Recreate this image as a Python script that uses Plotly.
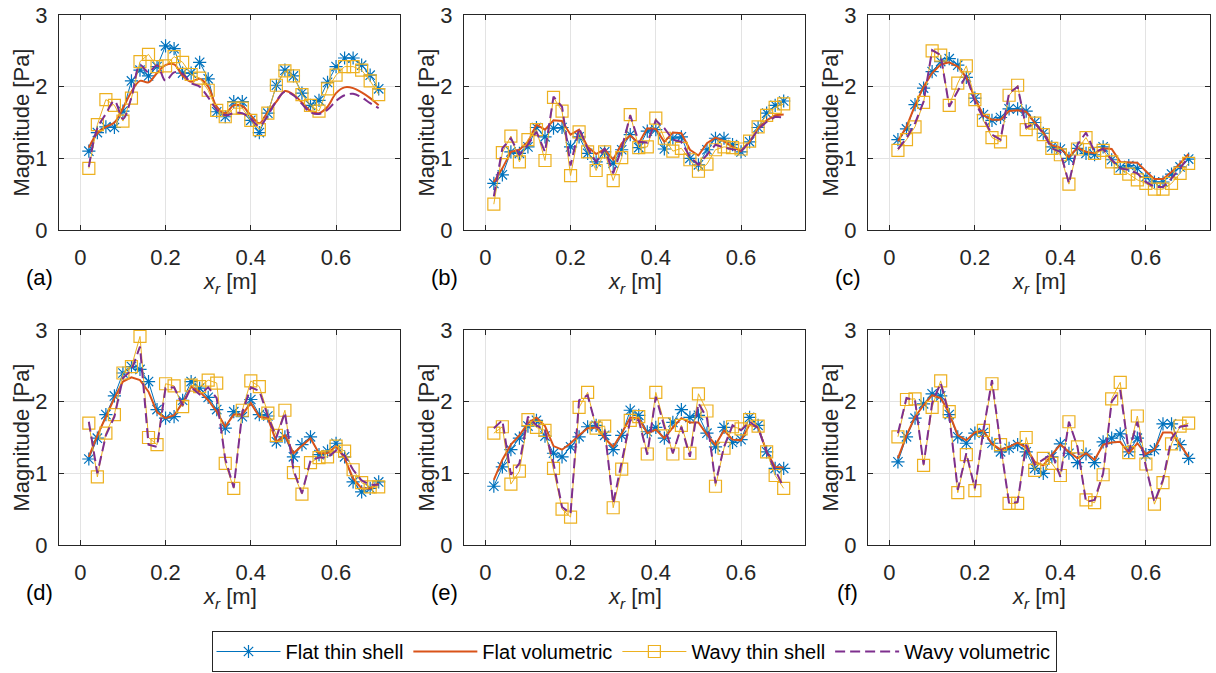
import plotly.graph_objects as go

W, H = 1216, 673

x_r = [0.02, 0.04, 0.06, 0.08, 0.10, 0.12, 0.14, 0.16, 0.18, 0.20, 0.22, 0.24,
       0.26, 0.28, 0.30, 0.32, 0.34, 0.36, 0.38, 0.40, 0.42, 0.44, 0.46, 0.48,
       0.50, 0.52, 0.54, 0.56, 0.58, 0.60, 0.62, 0.64, 0.66, 0.68, 0.70]

series_names = ["Flat thin shell", "Flat volumetric", "Wavy thin shell", "Wavy volumetric"]
panel_labels = ["(a)", "(b)", "(c)", "(d)", "(e)", "(f)"]
x_ticks = [0, 0.2, 0.4, 0.6]
x_tick_text = ["0", "0.2", "0.4", "0.6"]
y_ticks = [0, 1, 2, 3]

# Panel (a)
a_flat_thin = [1.10, 1.36, 1.44, 1.43, 1.66, 2.08, 2.23, 2.15, 2.28, 2.57, 2.53, 2.19,
               2.19, 2.34, 2.11, 1.65, 1.58, 1.79, 1.79, 1.53, 1.36, 1.63, 2.02, 2.23,
               2.15, 1.91, 1.74, 1.81, 2.06, 2.28, 2.40, 2.40, 2.30, 2.16, 1.97]
a_flat_vol = [1.15, 1.35, 1.44, 1.50, 1.70, 1.93, 2.08, 2.06, 2.19, 2.30, 2.31, 2.15,
              2.07, 2.11, 2.00, 1.72, 1.63, 1.74, 1.73, 1.60, 1.49, 1.65, 1.79, 1.94,
              1.89, 1.78, 1.66, 1.63, 1.72, 1.91, 1.99, 1.98, 1.92, 1.84, 1.74]
a_wavy_thin = [0.86, 1.47, 1.82, 1.74, 1.52, 1.84, 2.35, 2.45, 2.28, 2.29, 2.42, 2.34,
               2.17, 2.12, 1.95, 1.67, 1.58, 1.70, 1.70, 1.53, 1.40, 1.63, 2.02, 2.22,
               2.15, 1.89, 1.74, 1.66, 1.97, 2.16, 2.28, 2.28, 2.23, 2.08, 1.89]
a_wavy_vol = [0.88, 1.42, 1.62, 1.80, 1.55, 1.85, 2.30, 2.20, 2.30, 2.08, 2.20, 2.18,
              2.05, 2.00, 1.85, 1.68, 1.60, 1.63, 1.63, 1.55, 1.45, 1.60, 1.80, 1.93,
              1.88, 1.76, 1.64, 1.62, 1.68, 1.80, 1.88, 1.90, 1.85, 1.77, 1.70]

# Panel (b)
b_flat_thin = [0.65, 0.77, 1.09, 1.07, 1.16, 1.43, 1.30, 1.42, 1.43, 1.16, 1.30, 1.07,
               0.95, 1.09, 0.93, 1.12, 1.33, 1.15, 1.38, 1.40, 1.13, 1.28, 1.30, 1.00,
               0.91, 1.12, 1.28, 1.28, 1.19, 1.09, 1.23, 1.43, 1.63, 1.74, 1.80]
b_flat_vol = [0.67, 0.86, 1.09, 1.12, 1.23, 1.47, 1.40, 1.53, 1.52, 1.33, 1.40, 1.16,
              1.06, 1.13, 0.98, 1.21, 1.32, 1.21, 1.42, 1.41, 1.23, 1.36, 1.35, 1.12,
              1.04, 1.21, 1.29, 1.24, 1.16, 1.10, 1.23, 1.42, 1.53, 1.60, 1.61]
b_wavy_thin = [0.36, 1.08, 1.31, 0.95, 1.26, 1.40, 0.97, 1.85, 1.66, 0.76, 1.37, 1.09,
               0.83, 1.09, 0.69, 1.01, 1.61, 1.15, 1.16, 1.56, 1.28, 1.10, 1.14, 0.98,
               0.82, 0.92, 1.12, 1.16, 1.15, 1.13, 1.24, 1.44, 1.60, 1.71, 1.76]
b_wavy_vol = [0.47, 1.14, 1.28, 1.05, 1.19, 1.37, 1.09, 1.86, 1.72, 0.90, 1.42, 1.14,
              0.95, 1.14, 0.79, 1.14, 1.60, 1.23, 1.22, 1.53, 1.42, 1.26, 1.23, 1.02,
              0.91, 1.05, 1.19, 1.15, 1.13, 1.10, 1.23, 1.40, 1.51, 1.58, 1.57]

# Panel (c)
c_flat_thin = [1.26, 1.41, 1.75, 1.98, 2.21, 2.35, 2.39, 2.30, 2.13, 1.84, 1.61, 1.53,
               1.57, 1.69, 1.69, 1.66, 1.50, 1.35, 1.16, 1.13, 1.00, 1.14, 1.07, 1.05,
               1.16, 0.98, 0.87, 0.90, 0.86, 0.74, 0.67, 0.67, 0.78, 0.88, 0.99]
c_flat_vol = [1.24, 1.44, 1.74, 2.00, 2.19, 2.31, 2.34, 2.28, 2.13, 1.84, 1.60, 1.54,
              1.54, 1.66, 1.67, 1.65, 1.50, 1.36, 1.18, 1.15, 1.02, 1.15, 1.09, 1.07,
              1.14, 1.13, 0.95, 0.94, 0.94, 0.82, 0.71, 0.71, 0.81, 0.93, 1.06]
c_wavy_thin = [1.11, 1.26, 1.44, 1.78, 2.50, 2.44, 1.74, 2.05, 2.29, 1.82, 1.53, 1.29,
               1.23, 1.88, 2.02, 1.40, 1.49, 1.33, 1.14, 1.05, 0.64, 1.13, 1.29, 1.07,
               1.11, 0.95, 0.86, 0.78, 0.70, 0.65, 0.57, 0.57, 0.65, 0.79, 0.93]
c_wavy_vol = [1.13, 1.28, 1.49, 1.79, 2.51, 2.44, 1.72, 1.93, 2.16, 1.79, 1.56, 1.33,
              1.26, 1.91, 2.00, 1.43, 1.49, 1.35, 1.14, 1.09, 0.65, 1.19, 1.36, 1.09,
              1.13, 0.98, 0.86, 0.84, 0.79, 0.67, 0.60, 0.60, 0.72, 0.86, 1.02]

# Panel (d)
d_flat_thin = [1.20, 1.49, 1.82, 2.08, 2.40, 2.49, 2.45, 2.28, 1.89, 1.77, 1.79, 2.02,
               2.28, 2.19, 2.06, 1.89, 1.63, 1.86, 1.79, 2.03, 1.82, 1.80, 1.44, 1.51,
               1.23, 1.40, 1.51, 1.26, 1.31, 1.42, 1.23, 0.88, 0.74, 0.79, 0.88]
d_flat_vol = [1.23, 1.53, 1.79, 2.05, 2.28, 2.34, 2.30, 2.14, 1.85, 1.77, 1.81, 1.98,
              2.21, 2.14, 2.02, 1.86, 1.65, 1.82, 1.82, 1.98, 1.79, 1.77, 1.44, 1.53,
              1.28, 1.38, 1.49, 1.28, 1.28, 1.38, 1.21, 0.93, 0.79, 0.79, 0.86]
d_wavy_thin = [1.70, 0.95, 1.56, 1.82, 2.40, 2.49, 2.91, 1.50, 1.40, 2.25, 2.22, 1.93,
               2.23, 2.21, 2.30, 2.26, 1.14, 0.79, 1.88, 2.29, 2.21, 1.84, 1.53, 1.88,
               1.01, 0.71, 1.15, 1.22, 1.23, 1.38, 1.31, 1.05, 0.87, 0.81, 0.81]
d_wavy_vol = [1.72, 1.00, 1.53, 1.79, 2.33, 2.44, 2.77, 1.40, 1.37, 2.19, 2.20, 1.95,
              2.20, 2.10, 2.20, 2.05, 1.20, 0.80, 1.85, 2.20, 2.15, 1.80, 1.50, 1.85,
              1.05, 0.72, 1.18, 1.22, 1.22, 1.32, 1.25, 1.05, 0.90, 0.84, 0.84]

# Panel (e)
e_flat_thin = [0.82, 1.09, 1.33, 1.49, 1.66, 1.74, 1.52, 1.28, 1.23, 1.37, 1.51, 1.65,
               1.67, 1.53, 1.33, 1.53, 1.88, 1.81, 1.58, 1.64, 1.49, 1.71, 1.89, 1.78,
               1.81, 1.56, 1.37, 1.64, 1.43, 1.47, 1.78, 1.67, 1.30, 1.07, 1.07]
e_flat_vol = [0.91, 1.19, 1.40, 1.53, 1.70, 1.78, 1.66, 1.38, 1.33, 1.42, 1.53, 1.63,
              1.64, 1.49, 1.37, 1.56, 1.78, 1.77, 1.56, 1.61, 1.49, 1.64, 1.77, 1.71,
              1.71, 1.54, 1.40, 1.60, 1.47, 1.46, 1.68, 1.64, 1.30, 1.09, 1.08]
e_wavy_thin = [1.56, 1.65, 0.85, 1.03, 1.75, 1.64, 1.60, 1.07, 0.50, 0.39, 1.92, 2.13,
               1.63, 1.66, 0.52, 1.06, 1.74, 1.79, 1.27, 2.13, 1.69, 1.27, 1.67, 1.28,
               2.11, 1.87, 0.82, 1.35, 1.65, 1.62, 1.75, 1.66, 1.30, 0.97, 0.79]
e_wavy_vol = [1.63, 1.74, 0.98, 1.14, 1.79, 1.67, 1.60, 1.14, 0.53, 0.44, 2.02, 2.09,
              1.65, 1.60, 0.58, 1.14, 1.74, 1.74, 1.26, 2.07, 1.65, 1.28, 1.65, 1.23,
              1.98, 1.77, 0.86, 1.37, 1.67, 1.60, 1.72, 1.63, 1.30, 1.05, 0.80]

# Panel (f)
f_flat_thin = [1.16, 1.51, 1.77, 1.97, 2.11, 2.08, 1.82, 1.51, 1.42, 1.56, 1.57, 1.42,
               1.30, 1.35, 1.40, 1.30, 1.07, 1.00, 1.23, 1.41, 1.28, 1.15, 1.27, 1.15,
               1.44, 1.49, 1.55, 1.30, 1.49, 1.26, 1.33, 1.69, 1.69, 1.40, 1.21]
f_flat_vol = [1.21, 1.53, 1.79, 1.95, 2.09, 2.05, 1.84, 1.53, 1.46, 1.57, 1.60, 1.41,
              1.33, 1.37, 1.43, 1.36, 1.16, 1.11, 1.26, 1.40, 1.30, 1.21, 1.28, 1.19,
              1.40, 1.43, 1.44, 1.28, 1.42, 1.27, 1.33, 1.57, 1.57, 1.40, 1.23]
f_wavy_thin = [1.51, 2.03, 2.04, 1.11, 1.92, 2.29, 1.86, 0.73, 1.26, 0.76, 1.60, 2.25,
               1.40, 0.58, 0.58, 1.50, 1.04, 1.21, 1.14, 0.97, 1.72, 1.37, 0.63, 0.59,
               0.98, 2.04, 2.27, 1.29, 1.80, 1.13, 0.57, 0.87, 1.41, 1.66, 1.70]
f_wavy_vol = [1.56, 2.05, 2.02, 1.12, 1.98, 2.26, 1.81, 0.77, 1.28, 0.79, 1.60, 2.30,
              1.40, 0.58, 0.60, 1.40, 1.12, 1.19, 1.28, 0.95, 1.72, 1.37, 0.60, 0.63,
              1.00, 2.00, 2.16, 1.30, 1.72, 1.09, 0.60, 0.91, 1.49, 1.65, 1.67]

panels = [
    (a_flat_thin, a_flat_vol, a_wavy_thin, a_wavy_vol),
    (b_flat_thin, b_flat_vol, b_wavy_thin, b_wavy_vol),
    (c_flat_thin, c_flat_vol, c_wavy_thin, c_wavy_vol),
    (d_flat_thin, d_flat_vol, d_wavy_thin, d_wavy_vol),
    (e_flat_thin, e_flat_vol, e_wavy_thin, e_wavy_vol),
    (f_flat_thin, f_flat_vol, f_wavy_thin, f_wavy_vol),
]

BLUE, RED, YEL, PUR = "#0072BD", "#D95319", "#EDB120", "#7E2F8E"
FONT = "Liberation Sans, Arial, Helvetica, sans-serif"
AXC = "#262626"
GRID = "#e3e3e3"

col_px = [(59, 400), (464, 805), (868, 1210)]
row_px = [(15, 230), (330, 545)]

fig = go.Figure()
layout = {}
annotations = []

for i, data in enumerate(panels):
    r, c = divmod(i, 3)
    n = i + 1
    xs = "" if n == 1 else str(n)
    xa, ya = "x" + xs, "y" + xs
    x0, x1 = col_px[c]
    y0, y1 = row_px[r]
    shape = "spline" if i == 0 else "linear"
    show = (i == 0)
    ft, fv, wt, wv = data
    fig.add_trace(go.Scatter(x=x_r, y=ft, mode="lines+markers", name=series_names[0],
                             line=dict(color=BLUE, width=1),
                             marker=dict(symbol="asterisk-open", size=11,
                                         line=dict(color=BLUE, width=1.2)),
                             xaxis=xa, yaxis=ya, showlegend=show, legendgroup="g0"))
    fig.add_trace(go.Scatter(x=x_r, y=fv, mode="lines", name=series_names[1],
                             line=dict(color=RED, width=2, shape=shape),
                             xaxis=xa, yaxis=ya, showlegend=show, legendgroup="g1"))
    fig.add_trace(go.Scatter(x=x_r, y=wt, mode="lines+markers", name=series_names[2],
                             line=dict(color=YEL, width=1),
                             marker=dict(symbol="square-open", size=12,
                                         line=dict(color=YEL, width=1.2)),
                             xaxis=xa, yaxis=ya, showlegend=show, legendgroup="g2"))
    fig.add_trace(go.Scatter(x=x_r, y=wv, mode="lines", name=series_names[3],
                             line=dict(color=PUR, width=2, dash="10px,5px", shape=shape),
                             xaxis=xa, yaxis=ya, showlegend=show, legendgroup="g3"))

    layout["xaxis" + xs] = dict(
        domain=[x0 / W, x1 / W], anchor=ya, range=[-0.05, 0.75],
        tickvals=x_ticks, ticktext=x_tick_text, automargin=False,
        ticks="inside", ticklen=5, tickcolor=AXC, showline=True, linecolor=AXC,
        linewidth=1, mirror="ticks", showgrid=True, gridcolor=GRID,
        zeroline=False, ticklabelstandoff=8,
        tickfont=dict(size=22, color=AXC, family=FONT))
    layout["yaxis" + xs] = dict(
        domain=[1 - y1 / H, 1 - y0 / H], anchor=xa, range=[0, 3],
        tickvals=y_ticks, ticks="inside", ticklen=5, tickcolor=AXC, automargin=False,
        showline=True, linecolor=AXC, linewidth=1, mirror="ticks",
        showgrid=True, gridcolor=GRID, zeroline=False, ticklabelstandoff=6,
        tickfont=dict(size=22, color=AXC, family=FONT))

    # y-axis title
    annotations.append(dict(text="Magnitude [Pa]", x=(x0 - 38) / W, y=1 - (y0 + y1) / 2 / H,
                            xref="paper", yref="paper", showarrow=False, textangle=-90,
                            font=dict(size=22, color=AXC, family=FONT),
                            xanchor="center", yanchor="middle"))
    # x-axis title
    annotations.append(dict(text="<i>x</i><sub><i>r</i></sub> [m]", x=(x0 + x1) / 2 / W,
                            y=1 - (y1 + 53) / H, xref="paper", yref="paper",
                            showarrow=False, font=dict(size=22, color=AXC, family=FONT),
                            xanchor="center", yanchor="middle"))
    # panel label
    annotations.append(dict(text=panel_labels[i], x=(x0 - 20) / W, y=1 - (y1 + 47) / H,
                            xref="paper", yref="paper", showarrow=False,
                            font=dict(size=22, color="black", family=FONT),
                            xanchor="center", yanchor="middle"))

fig.update_layout(
    width=W, height=H, margin=dict(l=0, r=0, t=0, b=0),
    paper_bgcolor="white", plot_bgcolor="white",
    font=dict(family=FONT, color=AXC),
    annotations=annotations,
    legend=dict(orientation="h", x=634 / W, xanchor="center", y=1 / H,
                yanchor="bottom", bordercolor=AXC, borderwidth=1, bgcolor="white",
                font=dict(size=20, color="black", family=FONT), itemwidth=64,
                tracegroupgap=0),
    hovermode=False,
    **layout)

fig.write_html("out.html", config={"displayModeBar": False},
               post_script="document.body.style.margin='0';document.body.style.padding='0';")
